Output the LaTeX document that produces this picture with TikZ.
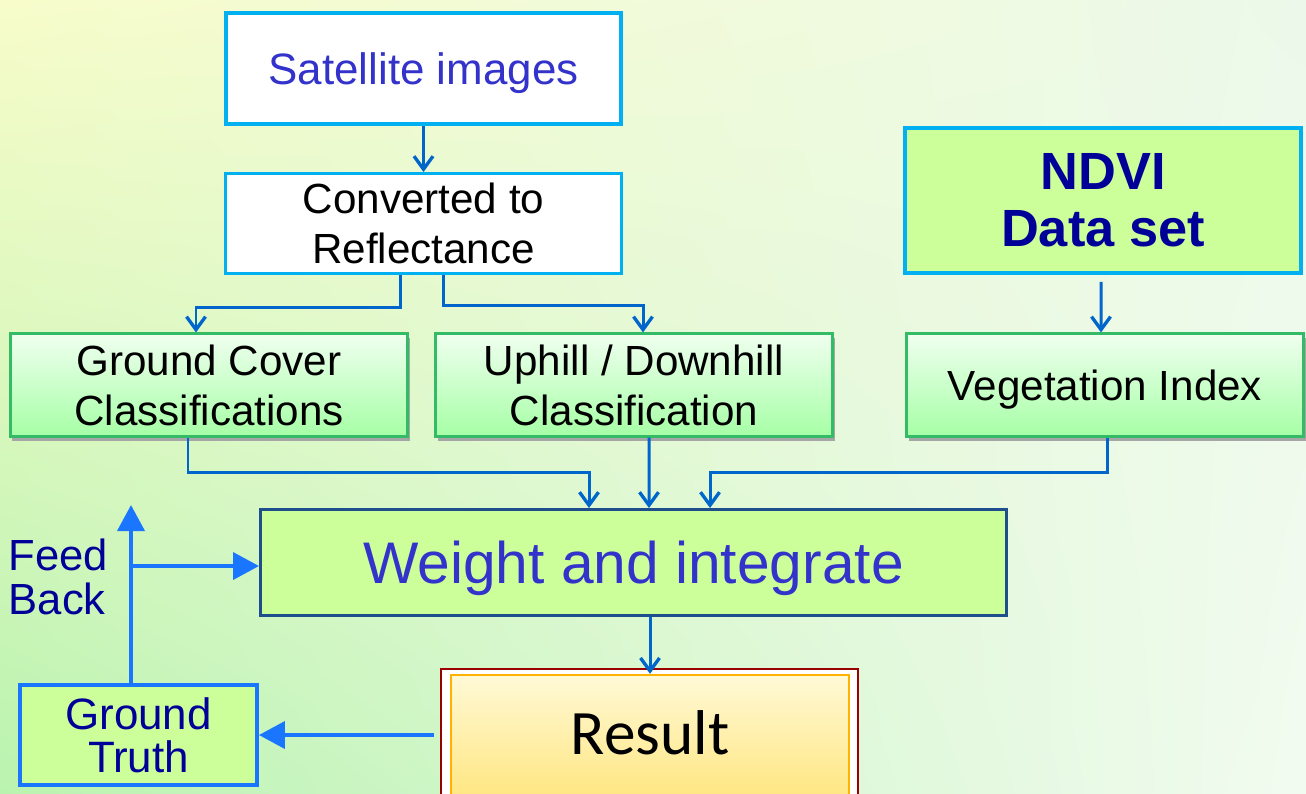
\documentclass[tikz,border=0pt]{standalone}
\usepackage{fontspec}
\setmainfont{Liberation Sans}
\newfontfamily\calfont{Carlito}
\usetikzlibrary{arrows.meta, shadows, shadings}

\definecolor{skycyan}{HTML}{00B0F0}
\definecolor{linkblue}{HTML}{0066CC}
\definecolor{fbblue}{HTML}{1A75FF}
\definecolor{midblue}{HTML}{3333CC}
\definecolor{navy}{HTML}{000099}
\definecolor{limefill}{HTML}{CCFF99}
\definecolor{frameblue}{HTML}{1F4E8C}
\definecolor{classedge}{HTML}{33BB66}
\definecolor{bgtl}{HTML}{F7FCCA}
\definecolor{bgtr}{HTML}{ECF9EA}
\definecolor{bgbl}{HTML}{BAF3B0}
\definecolor{bgbr}{HTML}{F2FBF0}
\definecolor{restop}{HTML}{FFF9D6}
\definecolor{resbot}{HTML}{FFE680}

\newcommand{\drop}{0.35}

\tikzset{
  box/.style={rectangle, inner sep=0pt, align=center, text=black},
  topbox/.style={box, draw=skycyan, fill=white},
  classbox/.style={box, draw=classedge, line width=0.6pt,
    top color=green!6, bottom color=green!35!white,
    minimum width=3.97cm, minimum height=1.03cm,
    drop shadow={shadow xshift=0.2mm, shadow yshift=-0.4mm, fill=gray!70, opacity=1},
    font=\fontsize{12}{14.2}\selectfont},
  limebox/.style={box, fill=limefill},
  link/.style={draw=linkblue, line width=0.85pt, -{Straight Barb[length=1.3mm, width=1.9mm, line width=0.95pt]}},
  fblink/.style={draw=fbblue, line width=1.1pt, -{Triangle[length=2.6mm, width=2.7mm]}},
}

\begin{document}
\begin{tikzpicture}

        \useasboundingbox (0,0) rectangle (13.06,-7.93);
        \shade[upper left=bgtl, upper right=bgtr, lower left=bgbl, lower right=bgbr]
            (0,0) rectangle (13.06,-7.93);

        % top of the chain
        \node[topbox, line width=1.1pt, minimum width=3.95cm, minimum height=1.11cm, text depth=0pt,
              text=midblue, font=\fontsize{12.5}{14}\selectfont]
            (sat) at (4.235, -0.685) {Satellite images};
        \node[topbox, line width=0.85pt, minimum width=3.96cm, minimum height=1.00cm,
              font=\fontsize{12}{14}\selectfont]
            (conv) at (4.235, -2.235) {Converted to\\Reflectance};
        \node[limebox, draw=skycyan, line width=1.1pt, minimum width=3.96cm, minimum height=1.45cm,
              text=navy, font=\fontsize{14.9}{16.2}\selectfont\bfseries]
            (ndvi) at (11.03, -2.005) {NDVI\\Data set};

        % classification row
        \node[classbox] (gc) at (2.09, -3.85) {Ground Cover\\Classifications};
        \node[classbox] (up) at (6.34, -3.85) {Uphill / Downhill\\Classification};
        \node[classbox, text depth=0pt] (veg) at (11.05, -3.85) {Vegetation Index};

        \node[limebox, draw=frameblue, line width=0.85pt, minimum width=7.46cm, minimum height=1.06cm,
              text depth=0pt, text=midblue, font=\fontsize{16.7}{18}\selectfont]
            (wt) at (6.335, -5.625) {Weight and integrate};

        % result, cut by the lower edge
        \node[rectangle, draw=red!60!black, line width=0.4pt, fill=white, inner sep=0pt,
              minimum width=4.17cm, minimum height=1.45cm]
            (resframe) at (6.495, -7.415) {};
        \node[box, draw=orange!60!yellow, line width=0.7pt, top color=restop, bottom color=resbot,
              minimum width=3.98cm, minimum height=1.25cm, font=\calfont\fontsize{18}{20}\selectfont]
            (res) at (6.50, -7.375) {\raisebox{1mm}{Result}};

        \node[limebox, draw=fbblue, line width=1.1pt, minimum width=2.37cm, minimum height=1.00cm,
              text=navy, font=\fontsize{12.5}{12.3}\selectfont]
            (gt) at (1.385, -7.35) {Ground\\Truth};
        \node[box, anchor=west, align=left, text=navy, font=\fontsize{12.4}{12.4}\selectfont]
            (fbtext) at (0.08, -5.77) {Feed\\Back};

        \draw[link] (sat) -- (conv);
        \draw[link] ([xshift=-2.35mm]conv.south) -- ++(0,-\drop+0.03) -| ([xshift=-1.3mm]gc.north);
        \draw[link] ([xshift=1.95mm]conv.south) -- ++(0,-\drop+0.05) -| ([xshift=0.9mm]up.north);
        \draw[link, shorten <=0.7mm] ([xshift=-0.2mm]ndvi.south) -- ([xshift=-0.4mm]veg.north);

        \draw[link] ([xshift=-2.1mm]gc.south) -- ++(0,-\drop) -| ([xshift=-4.45mm]wt.north);
        \draw[link] ([xshift=1.5mm]up.south) -- ([xshift=1.55mm]wt.north);
        \draw[link] ([xshift=0.2mm]veg.south) -- ++(0,-\drop) -| ([xshift=7.65mm]wt.north);
        \draw[link] (wt.south -| res.north) -- (res.north);

        % feedback loop
        \coordinate (fbtop) at ([xshift=-0.75mm]gt.north |- 0,-5.05);
        \coordinate (fbmid) at ([xshift=-0.75mm]gt.north |- 0,-5.66);
        \draw[fblink, shorten <=0.6mm] (resframe.west |- gt.east) -- (gt.east);
        \draw[fblink] ([xshift=-0.75mm]gt.north) -- (fbtop);
        \draw[fblink] (fbmid) -- (wt.west |- fbmid);

\end{tikzpicture}
\end{document}
